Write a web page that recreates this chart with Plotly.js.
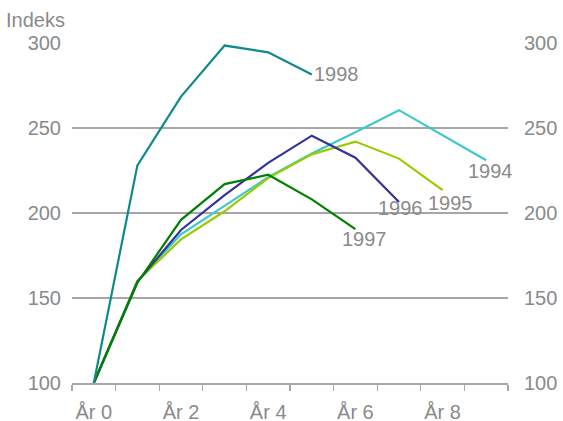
<!DOCTYPE html>
<html>
<head>
<meta charset="utf-8">
<script src="https://cdn.plot.ly/plotly-3.0.1.min.js"></script>
<style>html,body{margin:0;padding:0;background:#fff;}#chart{width:563px;height:421px;}</style>
</head>
<body>
<div id="chart"></div>
<script>
const years = [0, 1, 2, 3, 4, 5, 6, 7, 8, 9];
const tickVals = [0, 2, 4, 6, 8];
const tickText = ["År 0", "År 2", "År 4", "År 6", "År 8"];
const yTicks = [100, 150, 200, 250, 300];

const s1994 = [100, 160, 187.5, 204, 221, 235, 247.5, 260.5, 245.5, 231];
const s1995 = [100, 160, 184.5, 201, 220.5, 234.5, 242, 232, 213.5];
const s1996 = [100, 159.5, 190, 210.5, 229.5, 245.5, 232.5, 206.5];
const s1997 = [100, 159, 196, 217, 222.5, 208, 190.5];
const s1998 = [100, 228, 268.5, 298.5, 294.5, 281.5];

const seriesNames = ["1994", "1995", "1996", "1997", "1998"];
const seriesData = [s1994, s1995, s1996, s1997, s1998];
const colors = ["#3cc8cc", "#99cc00", "#333399", "#008000", "#0f8a8a"];
const labelShift = [[4, -11], [8, -13], [1, -6], [9, -10], [0, 0]];
const labelAnchor = ["center", "center", "center", "center", "left"];

const font = "Liberation Sans, Arial, sans-serif";
const grey = "#8a8a8a";

const traces = seriesData.map((d, i) => ({
  x: years.slice(0, d.length),
  y: d,
  type: "scatter",
  mode: "lines",
  name: seriesNames[i],
  line: {color: colors[i], width: 2.2},
  showlegend: false,
  hoverinfo: "skip"
}));

const annotations = seriesData.map((d, i) => ({
  x: d.length - 1,
  y: d[d.length - 1],
  xref: "x", yref: "y",
  text: seriesNames[i],
  showarrow: false,
  xanchor: labelAnchor[i],
  yanchor: "middle",
  xshift: labelShift[i][0],
  yshift: labelShift[i][1],
  font: {family: font, size: 20, color: grey}
}));
annotations.push({
  x: 0, y: 1, xref: "paper", yref: "paper",
  xanchor: "right", yanchor: "bottom",
  xshift: -5, yshift: 10,
  text: "Indeks", showarrow: false,
  font: {family: font, size: 20, color: grey}
});

const layout = {
  width: 563, height: 421,
  margin: {l: 72, r: 55, t: 43, b: 38},
  paper_bgcolor: "#fff", plot_bgcolor: "#fff",
  showlegend: false,
  xaxis: {
    range: [-0.5, 9.5],
    tickmode: "array", tickvals: tickVals, ticktext: tickText,
    ticks: "", showgrid: false, zeroline: false,
    showline: true, linecolor: "#a6a6a6", linewidth: 1.5,
    ticklabelstandoff: 10,
    tickfont: {family: font, size: 20, color: grey},
    minor: {tickmode: "linear", tick0: -0.5, dtick: 1, ticks: "outside", ticklen: 6, tickcolor: "#a6a6a6", tickwidth: 1.3, showgrid: false}
  },
  yaxis: {
    range: [100, 300],
    tickmode: "array", tickvals: yTicks,
    ticks: "", showline: false, zeroline: false,
    showgrid: true, gridcolor: "#a6a6a6", gridwidth: 1.5,
    ticklabelstandoff: 10,
    tickfont: {family: font, size: 20, color: grey}
  },
  yaxis2: {
    range: [100, 300], overlaying: "y", side: "right",
    tickmode: "array", tickvals: yTicks,
    ticks: "", showline: false, zeroline: false, showgrid: false,
    ticklabelstandoff: 15,
    tickfont: {family: font, size: 20, color: grey}
  },
  annotations: annotations
};

traces.push({x: [0], y: [100], yaxis: "y2", type: "scatter", mode: "none", showlegend: false, hoverinfo: "skip"});

Plotly.newPlot("chart", traces, layout, {staticPlot: true, displayModeBar: false});
</script>
</body>
</html>
